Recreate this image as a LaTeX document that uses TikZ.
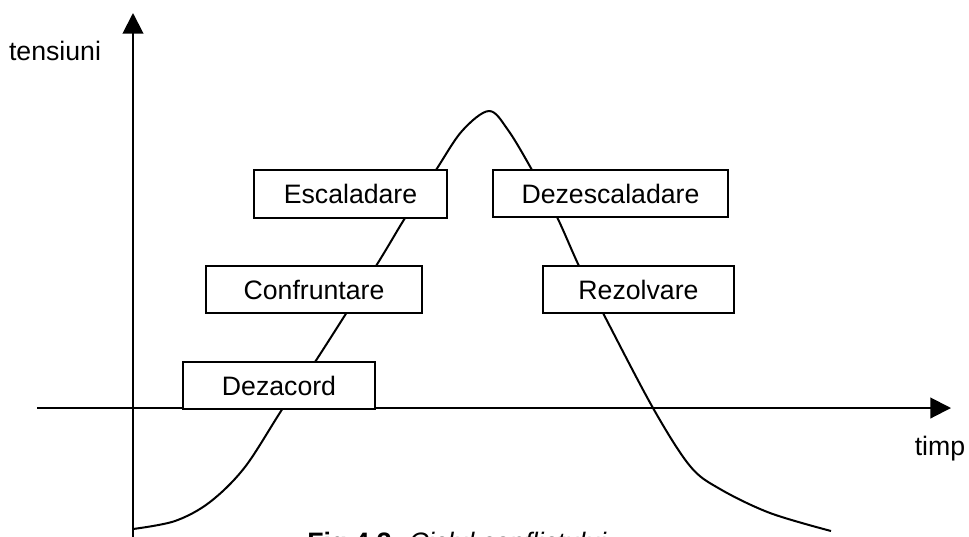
\documentclass[tikz,border=0pt]{standalone}
\usepackage{fontspec}
\setmainfont{Liberation Sans}
\usetikzlibrary{arrows.meta}

\begin{document}
\begin{tikzpicture}[x=0.75pt, y=-0.75pt,
  axis/.style={line width=1.5pt, -{Triangle[length=15.5pt,width=15.5pt]}},
  curve/.style={line width=1.5pt, line join=round},
  phase/.style 2 args={draw, fill=white, line width=1.5pt, inner sep=0pt,
    minimum width=#1*0.75pt, minimum height=#2*0.75pt,
    font=\fontsize{20}{24}\selectfont},
  lbl/.style={inner sep=0pt, font=\fontsize{20}{24}\selectfont}]

  % page frame
  \clip (0,0) rectangle (969,536);
  \fill[white] (0,0) rectangle (969,536);

  % axes
  \coordinate (ybot) at (133,540);
  \coordinate (ytop) at (133,13);
  \coordinate (xleft) at (37,408);
  \coordinate (xright) at (951,408);
  \draw[axis] (ybot) -- (ytop);
  \draw[axis] (xleft) -- (xright);

  % conflict intensity curve
  \draw[curve] plot[smooth, tension=0.55] coordinates {
    (133,529) (175,521) (210,502) (245,467) (283,408) (315,362)
    (376,266) (405,218) (436,170) (462,131) (489,111) (508,130)
    (532,170) (557,217) (579,266) (603,313) (653,408) (690,466)
    (720,489) (770,513) (831,531)};

  % phases
  \node[phase={193}{48}] (esc) at (350.5,194) {Escaladare};
  \node[phase={216}{47}] (conf) at (314,289.5) {Confruntare};
  \node[phase={192}{47}] (dez) at (279,385.5) {Dezacord};
  \node[phase={235}{47}] (desc) at (610.5,193.5) {Dezescaladare};
  \node[phase={191}{47}] (rez) at (638.5,289.5) {Rezolvare};

  % axis labels
  \node[lbl, anchor=base] (ylbl) at (55,60) {tensiuni};
  \node[lbl, anchor=base] (xlbl) at (940,455) {timp};

  % caption
  \node[lbl, anchor=base west] (cap) at (307,551)
    {\textbf{Fig.4.3.} \textit{Ciclul conflictului}};
\end{tikzpicture}
\end{document}
